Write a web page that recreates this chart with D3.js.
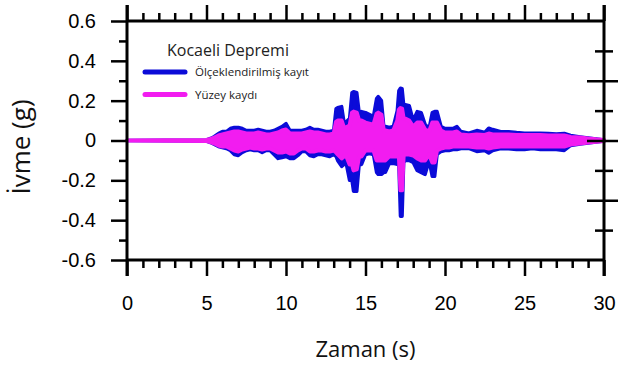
<!DOCTYPE html>
<html>
<head>
<meta charset="utf-8">
<script src="https://cdn.jsdelivr.net/npm/d3@7"></script>
<style>
  html, body { margin: 0; padding: 0; background: #fff; }
  svg { display: block; }
</style>
</head>
<body>
<svg id="chart" width="618" height="365"></svg>
<script>
// ---------- DATA ----------
// Envelope of the two acceleration records (g) at given times (s)
const time        = [0, 5.0, 5.25, 5.5, 5.75, 6.0, 6.25, 6.5, 6.75, 7.0, 7.25, 7.5, 7.75, 8.0, 8.25, 8.5, 8.75, 9.0, 9.25, 9.5, 9.75, 10.0, 10.25, 10.5, 10.75, 11.0, 11.25, 11.5, 11.75, 12.0, 12.25, 12.5, 12.75, 13.0, 13.15, 13.25, 13.5, 13.65, 13.75, 14.0, 14.15, 14.25, 14.45, 14.6, 14.75, 15.0, 15.25, 15.5, 15.7, 15.8, 16.0, 16.15, 16.25, 16.5, 16.75, 17.0, 17.1, 17.2, 17.3, 17.4, 17.5, 17.75, 18.0, 18.25, 18.5, 18.75, 19.0, 19.2, 19.35, 19.5, 19.75, 20.0, 20.25, 20.5, 20.75, 21.0, 21.5, 22.0, 22.5, 22.75, 23.0, 23.5, 24.0, 24.5, 25.0, 25.5, 26.0, 26.5, 27.0, 27.5, 27.9, 28.5, 29.0, 29.5, 30.0];
const blueUpper   = [0, 0.003, 0.01, 0.02, 0.035, 0.045, 0.045, 0.06, 0.065, 0.065, 0.06, 0.05, 0.05, 0.05, 0.055, 0.05, 0.045, 0.045, 0.05, 0.06, 0.07, 0.085, 0.05, 0.05, 0.05, 0.05, 0.055, 0.065, 0.055, 0.055, 0.05, 0.045, 0.045, 0.05, 0.16, 0.165, 0.17, 0.09, 0.09, 0.11, 0.24, 0.245, 0.24, 0.14, 0.145, 0.14, 0.13, 0.12, 0.21, 0.22, 0.2, 0.07, 0.07, 0.065, 0.07, 0.15, 0.25, 0.262, 0.26, 0.18, 0.18, 0.175, 0.1, 0.145, 0.14, 0.08, 0.06, 0.14, 0.145, 0.145, 0.07, 0.06, 0.06, 0.06, 0.07, 0.045, 0.037, 0.05, 0.04, 0.062, 0.055, 0.044, 0.044, 0.04, 0.037, 0.037, 0.037, 0.035, 0.033, 0.035, 0.025, 0.018, 0.013, 0.008, 0.003];
const blueLower   = [0, -0.003, -0.01, -0.02, -0.03, -0.035, -0.04, -0.05, -0.07, -0.075, -0.06, -0.05, -0.045, -0.05, -0.05, -0.06, -0.05, -0.05, -0.07, -0.09, -0.085, -0.08, -0.09, -0.09, -0.075, -0.055, -0.055, -0.075, -0.08, -0.07, -0.07, -0.075, -0.08, -0.07, -0.08, -0.1, -0.13, -0.12, -0.1, -0.2, -0.2, -0.255, -0.255, -0.12, -0.12, -0.07, -0.065, -0.07, -0.16, -0.17, -0.17, -0.16, -0.16, -0.115, -0.115, -0.12, -0.12, -0.38, -0.38, -0.11, -0.1, -0.1, -0.11, -0.15, -0.16, -0.17, -0.1, -0.18, -0.18, -0.07, -0.055, -0.05, -0.05, -0.045, -0.045, -0.04, -0.04, -0.055, -0.05, -0.063, -0.05, -0.04, -0.042, -0.045, -0.045, -0.04, -0.045, -0.045, -0.045, -0.05, -0.025, -0.018, -0.013, -0.008, -0.003];
const pinkUpper   = [0, 0.003, 0.008, 0.015, 0.025, 0.03, 0.035, 0.04, 0.045, 0.045, 0.04, 0.035, 0.035, 0.035, 0.04, 0.035, 0.03, 0.03, 0.035, 0.04, 0.05, 0.055, 0.035, 0.035, 0.035, 0.035, 0.04, 0.045, 0.04, 0.04, 0.035, 0.03, 0.03, 0.035, 0.095, 0.1, 0.1, 0.065, 0.065, 0.075, 0.14, 0.145, 0.14, 0.1, 0.1, 0.09, 0.085, 0.08, 0.135, 0.14, 0.13, 0.05, 0.05, 0.045, 0.05, 0.1, 0.155, 0.163, 0.16, 0.11, 0.11, 0.1, 0.07, 0.09, 0.09, 0.055, 0.045, 0.09, 0.09, 0.09, 0.05, 0.04, 0.04, 0.04, 0.045, 0.03, 0.027, 0.03, 0.028, 0.035, 0.03, 0.03, 0.03, 0.028, 0.027, 0.027, 0.027, 0.025, 0.025, 0.025, 0.018, 0.015, 0.01, 0.006, 0.003];
const pinkLower   = [0, -0.003, -0.008, -0.015, -0.025, -0.03, -0.03, -0.04, -0.05, -0.055, -0.045, -0.04, -0.035, -0.04, -0.04, -0.045, -0.04, -0.04, -0.05, -0.06, -0.06, -0.055, -0.065, -0.065, -0.05, -0.04, -0.04, -0.055, -0.055, -0.05, -0.05, -0.055, -0.055, -0.05, -0.06, -0.07, -0.09, -0.08, -0.07, -0.12, -0.12, -0.15, -0.145, -0.08, -0.08, -0.05, -0.05, -0.05, -0.1, -0.1, -0.1, -0.1, -0.1, -0.08, -0.08, -0.08, -0.08, -0.25, -0.25, -0.075, -0.07, -0.07, -0.075, -0.09, -0.1, -0.1, -0.07, -0.11, -0.11, -0.05, -0.04, -0.035, -0.035, -0.03, -0.03, -0.03, -0.03, -0.035, -0.035, -0.04, -0.035, -0.03, -0.03, -0.03, -0.03, -0.03, -0.03, -0.03, -0.03, -0.03, -0.02, -0.015, -0.01, -0.006, -0.003];

const seriesNames  = ["Ölçeklendirilmiş kayıt", "Yüzey kaydı"];
const legendTitle  = "Kocaeli Depremi";
const xMajorTicks  = [0, 5, 10, 15, 20, 25, 30];
const xTickLabels  = ["0", "5", "10", "15", "20", "25", "30"];
const yMajorTicks  = [-0.6, -0.4, -0.2, 0, 0.2, 0.4, 0.6];
const yTickLabels  = ["-0.6", "-0.4", "-0.2", "0", "0.2", "0.4", "0.6"];
const yRightTicks  = [-0.45, -0.3, -0.15, 0, 0.15, 0.3, 0.45];
const xTitle = "Zaman (s)";
const yTitle = "İvme (g)";

// ---------- LAYOUT ----------
const BLUE = "#0b0bd8", PINK = "#f21cf0";
const L = 127, R = 604, T = 21, B = 260;
const svg = d3.select("#chart");
const x = d3.scaleLinear().domain([0, 30]).range([L, R]);
const y = d3.scaleLinear().domain([-0.6, 0.6]).range([B, T]);

// ---------- SERIES (envelopes) ----------
const rows = time.map((t, i) => ({t, bu: blueUpper[i], bl: blueLower[i], pu: pinkUpper[i], pl: pinkLower[i]}));
const areaBlue = d3.area().x(d => x(d.t)).y0(d => y(d.bl)).y1(d => y(d.bu));
const areaPink = d3.area().x(d => x(d.t)).y0(d => y(d.pl)).y1(d => y(d.pu));
svg.append("path").datum(rows).attr("d", areaBlue)
  .attr("fill", BLUE).attr("stroke", BLUE).attr("stroke-width", 3.5).attr("stroke-linejoin", "round");
svg.append("path").datum(rows).attr("d", areaPink)
  .attr("fill", PINK).attr("stroke", PINK).attr("stroke-width", 4).attr("stroke-linejoin", "round");

// ---------- AXES ----------
const tickFont = "'Liberation Sans', Arial, sans-serif";
function styleAxis(g) {
  g.select(".domain").remove();
  g.selectAll(".tick line").attr("stroke", "#000").attr("stroke-width", 2.5);
  g.selectAll("text").attr("font-family", tickFont).attr("font-size", 20).attr("fill", "#000");
}
const xMinor = d3.range(0, 31, 1).filter(v => v % 5 !== 0);
const yMinor = d3.range(-5, 6, 2).map(v => v / 10);

// bottom
svg.append("g").attr("transform", `translate(0,${B})`)
  .call(d3.axisBottom(x).tickValues(xMajorTicks).tickSize(16).tickPadding(20).tickFormat((d, i) => xTickLabels[i])).call(styleAxis);
svg.append("g").attr("transform", `translate(0,${B})`)
  .call(d3.axisBottom(x).tickValues(xMinor).tickSize(8).tickFormat("")).call(styleAxis);
// top
svg.append("g").attr("transform", `translate(0,${T})`)
  .call(d3.axisTop(x).tickValues(xMajorTicks).tickSize(16).tickFormat("")).call(styleAxis);
svg.append("g").attr("transform", `translate(0,${T})`)
  .call(d3.axisTop(x).tickValues(xMinor).tickSize(8).tickFormat("")).call(styleAxis);
// left
svg.append("g").attr("transform", `translate(${L},0)`)
  .call(d3.axisLeft(y).tickValues(yMajorTicks).tickSize(16).tickPadding(15).tickFormat((d, i) => yTickLabels[i])).call(styleAxis);
svg.append("g").attr("transform", `translate(${L},0)`)
  .call(d3.axisLeft(y).tickValues(yMinor).tickSize(8).tickFormat("")).call(styleAxis);
// right (ticks crossing the spine)
const rightMajor = yRightTicks.filter(v => Math.abs(Math.round(v / 0.3) * 0.3 - v) < 1e-9);
const rightMinor = yRightTicks.filter(v => !rightMajor.includes(v));
svg.append("g").attr("transform", `translate(${R},0)`)
  .call(d3.axisRight(y).tickValues(rightMajor).tickSizeInner(14).tickFormat("")).call(styleAxis)
  .selectAll(".tick line").attr("x1", -17);
svg.append("g").attr("transform", `translate(${R},0)`)
  .call(d3.axisRight(y).tickValues(rightMinor).tickSizeInner(9).tickFormat("")).call(styleAxis)
  .selectAll(".tick line").attr("x1", -9);

// spines
const spine = svg.append("g").attr("stroke", "#000").attr("stroke-width", 3);
spine.append("line").attr("x1", L).attr("x2", R).attr("y1", B).attr("y2", B);
spine.append("line").attr("x1", L).attr("x2", R).attr("y1", T).attr("y2", T);
spine.append("line").attr("x1", L).attr("x2", L).attr("y1", T - 16).attr("y2", B + 16);
spine.append("line").attr("x1", R).attr("x2", R).attr("y1", T - 16).attr("y2", B + 16);

// ---------- TITLES ----------
const labelFont = "'Open Sans', 'Noto Sans', sans-serif";
svg.append("text").attr("x", (L + R) / 2).attr("y", 357).attr("text-anchor", "middle")
  .attr("font-family", labelFont).attr("font-size", 22).attr("fill", "#111").text(xTitle);
svg.append("text").attr("transform", "translate(30,147) rotate(-90)").attr("text-anchor", "middle")
  .attr("font-family", labelFont).attr("font-size", 26).attr("fill", "#111").text(yTitle);

// ---------- LEGEND ----------
const lg = svg.append("g");
lg.append("text").attr("x", 167).attr("y", 56).attr("font-family", labelFont).attr("font-size", 16)
  .attr("fill", "#222").text(legendTitle);
[BLUE, PINK].forEach((c, i) => {
  const yy = 72 + i * 22.5;
  lg.append("line").attr("x1", 145).attr("x2", 185).attr("y1", yy).attr("y2", yy)
    .attr("stroke", c).attr("stroke-width", 5).attr("stroke-linecap", "round");
  lg.append("text").attr("x", 195).attr("y", yy + 4).attr("font-family", labelFont).attr("font-size", 11.5)
    .attr("fill", "#222").text(seriesNames[i]);
});
</script>
</body>
</html>
